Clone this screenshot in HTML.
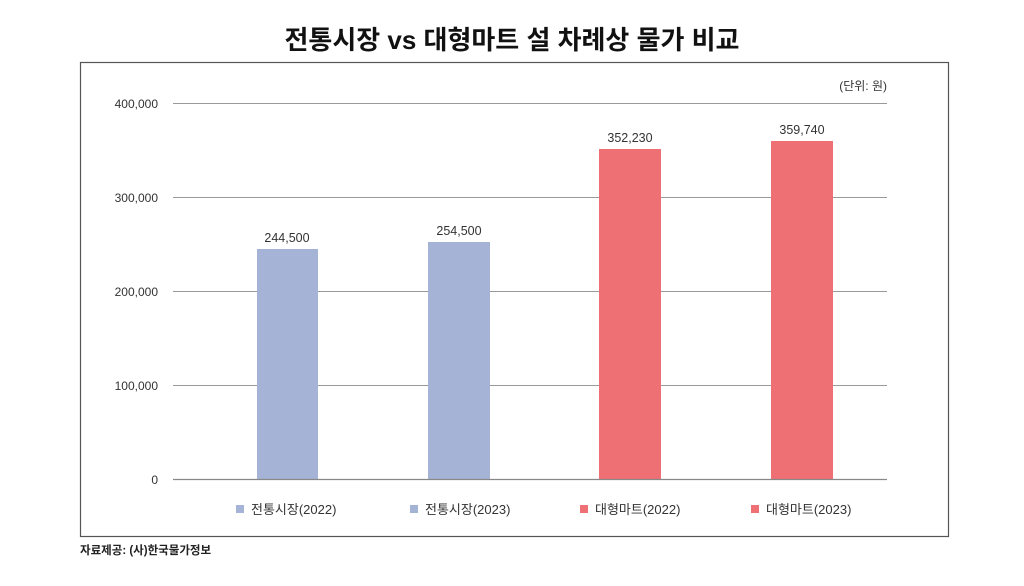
<!DOCTYPE html>
<html><head><meta charset="utf-8"><style>
html,body{margin:0;padding:0;background:#fff;}
body{width:1024px;height:586px;position:relative;overflow:hidden;font-family:"Liberation Sans","Noto Sans CJK KR",sans-serif;}
</style></head><body>
<svg width="1024" height="586" xmlns="http://www.w3.org/2000/svg" style="position:absolute;left:0;top:0" font-family="Liberation Sans, Noto Sans CJK KR, sans-serif">
<text x="512" y="49" text-anchor="middle" font-size="26" font-weight="bold" fill="#111">전통시장 vs 대형마트 설 차례상 물가 비교</text>
<rect x="80.5" y="62.5" width="868" height="474" fill="none" stroke="#555" stroke-width="1.2"/>
<text x="887" y="90" text-anchor="end" font-size="12" fill="#333">(단위: 원)</text>
<g stroke="#999" stroke-width="1">
<line x1="173" x2="887" y1="103.5" y2="103.5"/>
<line x1="173" x2="887" y1="197.5" y2="197.5"/>
<line x1="173" x2="887" y1="291.5" y2="291.5"/>
<line x1="173" x2="887" y1="385.5" y2="385.5"/>
</g>
<g font-size="12" fill="#333" text-anchor="end">
<text x="158" y="108">400,000</text>
<text x="158" y="202">300,000</text>
<text x="158" y="296">200,000</text>
<text x="158" y="390">100,000</text>
<text x="158" y="484">0</text>
</g>
<rect x="257" y="249" width="61" height="230" fill="#A5B3D6"/>
<rect x="428" y="242" width="62" height="237" fill="#A5B3D6"/>
<rect x="599" y="149" width="62" height="330" fill="#EE7075"/>
<rect x="771" y="141" width="62" height="338" fill="#EE7075"/>
<line x1="173" x2="887" y1="479.5" y2="479.5" stroke="#888" stroke-width="1.2"/>
<g font-size="12.5" fill="#333" text-anchor="middle">
<text x="287" y="242">244,500</text>
<text x="459" y="235">254,500</text>
<text x="630" y="142">352,230</text>
<text x="802" y="134">359,740</text>
</g>
<g font-size="13" fill="#333">
<rect x="236" y="505" width="8" height="8" fill="#A5B3D6"/><text x="251" y="514">전통시장(2022)</text>
<rect x="410" y="505" width="8" height="8" fill="#A5B3D6"/><text x="425" y="514">전통시장(2023)</text>
<rect x="580" y="505" width="8" height="8" fill="#EE7075"/><text x="595" y="514">대형마트(2022)</text>
<rect x="751" y="505" width="8" height="8" fill="#EE7075"/><text x="766" y="514">대형마트(2023)</text>
</g>
<text x="80" y="554" font-size="11.5" font-weight="bold" fill="#222">자료제공: (사)한국물가정보</text>
</svg>
</body></html>
